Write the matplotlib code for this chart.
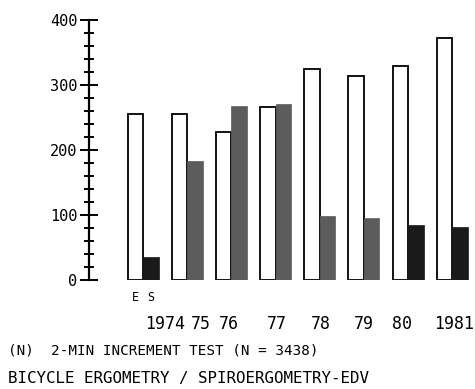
import matplotlib.pyplot as plt
import numpy as np

# values
years = ["1974", "75", "76", "77", "78", "79", "80", "1981"]
ergometry = [255, 256, 228, 266, 325, 314, 330, 373]        # E
spiro = [36, 183, 268, 271, 98, 95, 84, 81]                 # S
spiro_colors = ["#1a1a1a", "#5c5c5c", "#5c5c5c", "#5c5c5c",
                "#5c5c5c", "#5c5c5c", "#1a1a1a", "#1a1a1a"]

mono = "DejaVu Sans Mono"

fig = plt.figure(figsize=(4.75, 3.89), dpi=100)
ax = fig.add_axes([89 / 475, 1 - 280 / 389, 381 / 475, 260 / 389])

x = np.arange(len(years))
w = 0.35
ax.bar(x - w / 2, ergometry, width=w, color="white", edgecolor="black", linewidth=1.3)
ax.bar(x + w / 2, spiro, width=w, color=spiro_colors, edgecolor=spiro_colors, linewidth=0.5)

ax.set_xlim(-1.223, 7.40)
ax.set_ylim(0, 400)

for s in ["top", "right", "bottom"]:
    ax.spines[s].set_visible(False)
ax.spines["left"].set_linewidth(1.6)

ax.set_yticks([0, 100, 200, 300, 400])
ax.set_yticklabels(["0", "100", "200", "300", "400"], fontfamily=mono, fontsize=11)
ax.set_yticks(np.arange(0, 401, 20), minor=True)
ax.tick_params(axis="y", which="major", direction="inout", length=13, width=1.4, pad=2)
ax.tick_params(axis="y", which="minor", direction="inout", length=6.5, width=1.4)
ax.set_xticks([])

# E / S marker under the first pair
ax.text(-w / 2, -27, "E", ha="center", va="center", fontfamily=mono, fontsize=8.5)
ax.text(w / 2, -27, "S", ha="center", va="center", fontfamily=mono, fontsize=8.5)

# year labels, the first two sit a bit to the right in the original
shifts = [0.5, 0.3, -0.05, 0.02, 0.02, 0, -0.14, 0.05]
for i, (yr, sh) in enumerate(zip(years, shifts)):
    ax.text(i + sh, -68, yr, ha="center", va="center", fontfamily=mono, fontsize=12)

fig.text(8 / 475, 1 - 351 / 389, "(N)  2-MIN INCREMENT TEST (N = 3438)",
         ha="left", va="center", fontfamily=mono, fontsize=10.3)
fig.text(8 / 475, 1 - 379 / 389, "BICYCLE ERGOMETRY / SPIROERGOMETRY-EDV",
         ha="left", va="center", fontfamily=mono, fontsize=11.4)

fig.savefig("out.png", dpi=100)
